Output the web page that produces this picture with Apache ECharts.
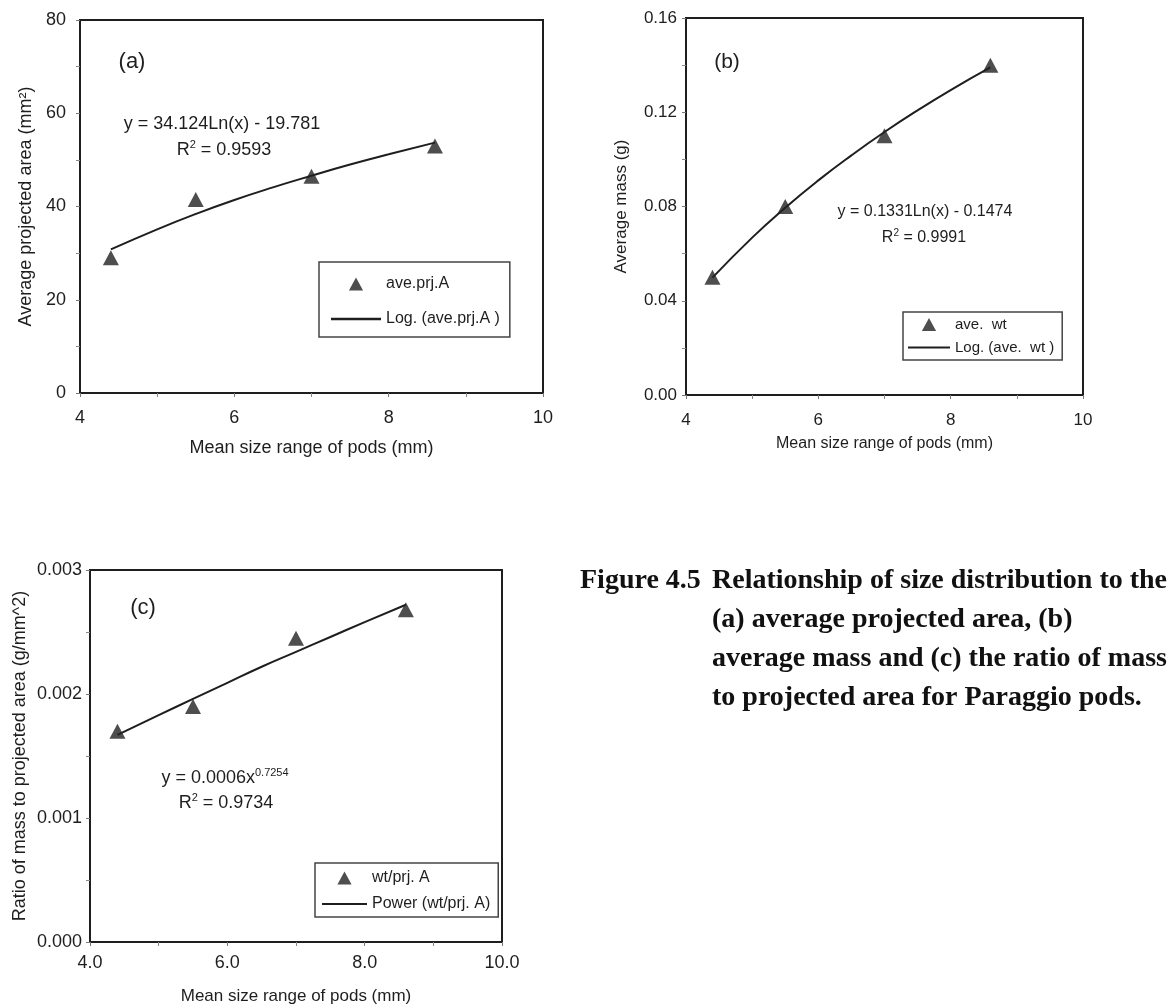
<!DOCTYPE html>
<html>
<head>
<meta charset="utf-8">
<script src="https://cdn.jsdelivr.net/npm/echarts@6/dist/echarts.min.js"></script>
<style>
html,body{margin:0;padding:0;background:#fff;}
#chart{width:1173px;height:1006px;}
</style>
</head>
<body>
<div id="chart"></div>
<script>
// ---- data ----
const podSize = [4.4, 5.5, 7.0, 8.6];
const areaA = [29, 41.5, 46.5, 53];
const massB = [0.05, 0.08, 0.11, 0.14];
const ratioC = [0.0017, 0.0019, 0.00245, 0.00268];
const trendX = [4.4, 5, 5.5, 6, 6.5, 7, 7.5, 8, 8.6];
const trendA = [30.8, 35.1, 38.4, 41.4, 44.1, 46.6, 49.0, 51.2, 53.7];
const trendB = [0.0498, 0.0668, 0.0795, 0.0911, 0.1017, 0.1116, 0.1208, 0.1294, 0.1390];
const trendC = [0.00167, 0.00183, 0.00196, 0.00209, 0.00222, 0.00234, 0.00246, 0.00258, 0.00272];
const namesA = ['ave.prj.A', 'Log. (ave.prj.A )'];
const namesB = ['ave.  wt', 'Log. (ave.  wt )'];
const namesC = ['wt/prj. A', 'Power (wt/prj. A)'];
const captionLines = [
  'Relationship of size distribution to the',
  '(a) average projected area, (b)',
  'average mass and (c) the ratio of mass',
  'to projected area for Paraggio pods.'
];

const INK = '#1e1e1e';
const FONT = '"Liberation Sans", Arial, sans-serif';
const TRI = 'path://M6,0L12,11L0,11Z';
const LINE = 'path://M0,0H50V2.4H0Z';

const pairs = (xs, ys) => xs.map((x, i) => [x, ys[i]]);

function xAxisCfg(grid, dec, margin, nameGap, fs, lfs) {
  return {
    gridIndex: grid, type: 'value', min: 4, max: 10, interval: 2,
    name: 'Mean size range of pods (mm)', nameLocation: 'middle', nameGap: nameGap,
    nameTextStyle: {fontFamily: FONT, fontSize: fs, color: INK},
    axisLine: {show: true, onZero: false, lineStyle: {color: INK, width: 2}},
    axisTick: {show: true, length: 4, lineStyle: {color: '#777', width: 1}},
    minorTick: {show: true, splitNumber: 2, length: 4, lineStyle: {color: '#888', width: 1}},
    splitLine: {show: false},
    axisLabel: {fontFamily: FONT, fontSize: lfs, color: INK, margin: margin,
      formatter: v => dec ? v.toFixed(dec) : String(v)}
  };
}
function yAxisCfg(grid, name, max, interval, dec, margin, nameGap, fs, lfs) {
  return {
    gridIndex: grid, type: 'value', min: 0, max: max, interval: interval,
    name: name, nameLocation: 'middle', nameGap: nameGap,
    nameTextStyle: {fontFamily: FONT, fontSize: fs, color: INK},
    axisLine: {show: true, onZero: false, lineStyle: {color: INK, width: 2}},
    axisTick: {show: true, length: 4, lineStyle: {color: '#777', width: 1}},
    minorTick: {show: true, splitNumber: 2, length: 4, lineStyle: {color: '#888', width: 1}},
    splitLine: {show: false},
    axisLabel: {fontFamily: FONT, fontSize: lfs, color: INK, margin: margin,
      formatter: v => v.toFixed(dec)}
  };
}
function scatterS(name, i, data) {
  return {name: name, type: 'scatter', xAxisIndex: i, yAxisIndex: i, data: data,
    symbol: 'triangle', symbolSize: [16, 15], itemStyle: {color: '#222'}, z: 3,
    emphasis: {disabled: true}};
}
function lineS(name, i, data) {
  return {name: name, type: 'line', xAxisIndex: i, yAxisIndex: i, data: data,
    smooth: true, showSymbol: false, symbol: 'none',
    lineStyle: {color: INK, width: 2}, itemStyle: {color: INK}, z: 2,
    emphasis: {disabled: true}};
}
function legendCfg(names, left, top, itemW, gap, pad, fs) {
  return {
    orient: 'vertical', left: left, top: top, itemWidth: itemW, itemHeight: 13,
    itemGap: gap, padding: pad, selectedMode: false,
    borderColor: '#444', borderWidth: 1.5, backgroundColor: '#fff',
    textStyle: {fontFamily: FONT, fontSize: fs, color: INK},
    data: [{name: names[0], icon: TRI}, {name: names[1], icon: LINE}]
  };
}
function txt(x, y, text, fs) {
  return {type: 'text', x: x, y: y, z: 100, silent: true,
    style: {text: text, fill: INK, font: fs + 'px ' + FONT, align: 'center', verticalAlign: 'middle',
      rich: {n: {fontSize: fs, fontFamily: FONT, fill: INK, lineHeight: fs + 4},
        sup: {fontSize: Math.round(fs * 0.62), fontFamily: FONT, fill: INK, verticalAlign: 'top', lineHeight: fs * 0.7}}}};
}
function cap(x, y, text) {
  return {type: 'text', x: x, y: y, z: 100, silent: true,
    style: {text: text, fill: '#111', font: 'bold 28px "Liberation Serif", "Times New Roman", serif',
      align: 'left', verticalAlign: 'middle'}};
}

const chart = echarts.init(document.getElementById('chart'), null, {renderer: 'canvas'});
chart.setOption({
  animation: false,
  backgroundColor: '#fff',
  grid: [
    {left: 80, top: 20, width: 463, height: 373, show: true, borderColor: INK, borderWidth: 2, backgroundColor: '#fff'},
    {left: 686, top: 18, width: 397, height: 377, show: true, borderColor: INK, borderWidth: 2, backgroundColor: '#fff'},
    {left: 90, top: 570, width: 412, height: 372, show: true, borderColor: INK, borderWidth: 2, backgroundColor: '#fff'}
  ],
  xAxis: [
    xAxisCfg(0, 0, 16, 46, 18, 18),
    xAxisCfg(1, 0, 17, 41, 16, 17),
    xAxisCfg(2, 1, 12, 46, 17, 18)
  ],
  yAxis: [
    yAxisCfg(0, 'Average projected area (mm²)', 80, 20, 0, 14, 45, 18, 18),
    yAxisCfg(1, 'Average mass (g)', 0.16, 0.04, 2, 9, 56, 17, 17),
    yAxisCfg(2, 'Ratio of mass to projected area (g/mm^2)', 0.003, 0.001, 3, 8, 61, 18, 18)
  ],
  legend: [
    legendCfg(namesA, 319, 262, 50, 19, [14, 10, 10, 12], 16),
    legendCfg(namesB, 903, 312, 42, 8, [5, 8, 5, 5], 15),
    legendCfg(namesC, 315, 863, 45, 10, [7, 8, 5, 7], 16)
  ],
  series: [
    lineS(namesA[1], 0, pairs(trendX, trendA)),
    scatterS(namesA[0], 0, pairs(podSize, areaA)),
    lineS(namesB[1], 1, pairs(trendX, trendB)),
    scatterS(namesB[0], 1, pairs(podSize, massB)),
    lineS(namesC[1], 2, pairs(trendX, trendC)),
    scatterS(namesC[0], 2, pairs(podSize, ratioC))
  ],
  graphic: [
    txt(132, 62, '(a)', 22),
    txt(222, 124, 'y = 34.124Ln(x) - 19.781', 18),
    txt(224, 150, '{n|R}{sup|2}{n| = 0.9593}', 18),
    txt(727, 62, '(b)', 21),
    txt(925, 212, 'y = 0.1331Ln(x) - 0.1474', 16),
    txt(924, 238, '{n|R}{sup|2}{n| = 0.9991}', 16),
    txt(143, 608, '(c)', 22),
    txt(225, 778, '{n|y = 0.0006x}{sup|0.7254}', 18),
    txt(226, 803, '{n|R}{sup|2}{n| = 0.9734}', 18),
    cap(580, 581, 'Figure 4.5'),
    cap(712, 581, captionLines[0]),
    cap(712, 620, captionLines[1]),
    cap(712, 659, captionLines[2]),
    cap(712, 698, captionLines[3])
  ]
});
</script>
</body>
</html>
